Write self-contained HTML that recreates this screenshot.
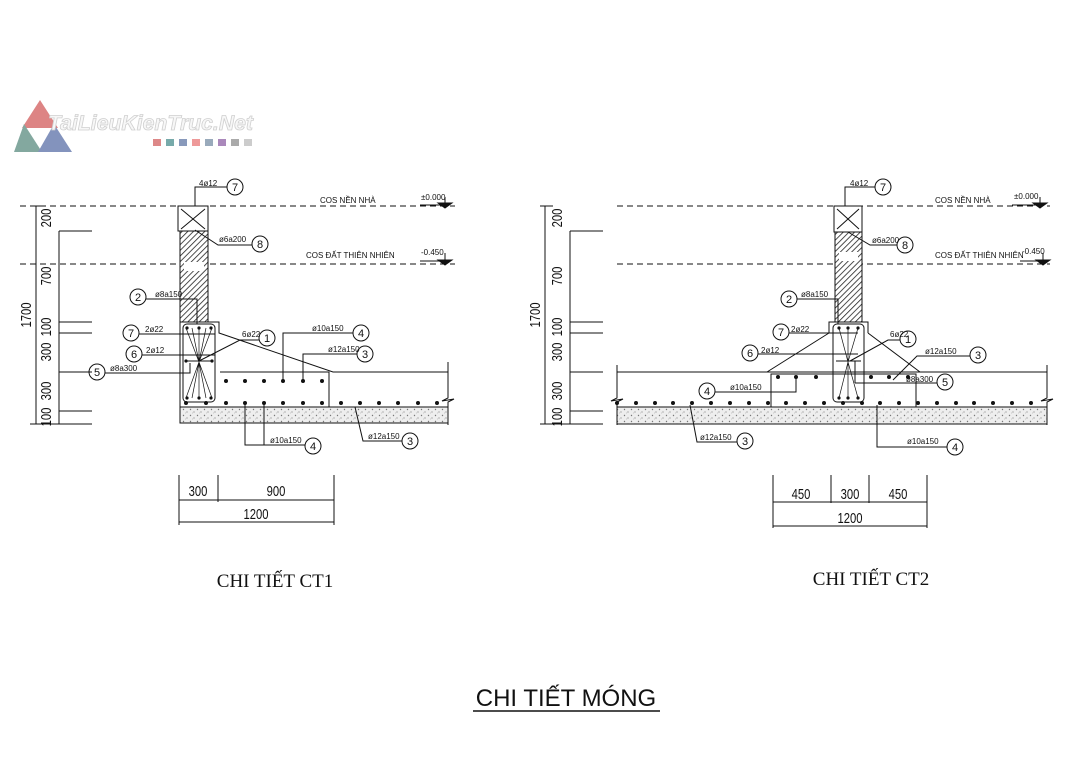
<!DOCTYPE html>
<html><head><meta charset="utf-8"><style>
body{margin:0;background:#fff;width:1080px;height:761px;overflow:hidden}
svg{display:block}
text{font-family:"Liberation Sans",sans-serif;fill:#111}
.s{font-size:8px}
</style></head><body>
<svg width="1080" height="761" viewBox="0 0 1080 761" xmlns="http://www.w3.org/2000/svg">
<defs>
<pattern id="h" width="4" height="4" patternUnits="userSpaceOnUse" patternTransform="rotate(45)"><rect width="4" height="4" fill="#fff"/><line x1="0" y1="0" x2="0" y2="4" stroke="#222" stroke-width="1.6"/></pattern>
<pattern id="c" width="7" height="6" patternUnits="userSpaceOnUse"><rect width="7" height="6" fill="#eee"/><circle cx="1.5" cy="1.5" r=".7" fill="#777"/><circle cx="5" cy="4" r=".6" fill="#888"/><circle cx="3.5" cy="5" r=".4" fill="#999"/></pattern>
</defs>
<!-- logo -->
<g opacity="0.75">
<polygon points="40,100 58,128 22,128" fill="#d25b5b"/>
<polygon points="24,124 42,152 14,152" fill="#5a8c80"/>
<polygon points="54,124 72,152 38,152" fill="#5a6fa8"/>
</g>
<text x="48" y="130" font-size="21" textLength="205" lengthAdjust="spacingAndGlyphs" font-style="italic" font-weight="bold" stroke="#d0d0d0" stroke-width="0.8" style="fill:#f7f7f7">TaiLieuKienTruc.Net</text>
<g>
<rect x="153" y="139" width="8" height="7" fill="#d88"/><rect x="166" y="139" width="8" height="7" fill="#7aa"/><rect x="179" y="139" width="8" height="7" fill="#89b"/><rect x="192" y="139" width="8" height="7" fill="#e99"/><rect x="205" y="139" width="8" height="7" fill="#9ab"/><rect x="218" y="139" width="8" height="7" fill="#a8b"/><rect x="231" y="139" width="8" height="7" fill="#aaa"/><rect x="244" y="139" width="8" height="7" fill="#ccc"/>
</g>

<g stroke="#111" stroke-width="1" fill="none">
<!-- ===== LEFT ===== -->
<line x1="20" y1="206" x2="455" y2="206" stroke-dasharray="6,4"/>
<line x1="20" y1="264" x2="455" y2="264" stroke-dasharray="6,4"/>
<rect x="178" y="206" width="30" height="25"/>
<line x1="181" y1="209" x2="205" y2="229"/><line x1="205" y1="209" x2="181" y2="229"/>
<rect x="180" y="231" width="28" height="91" fill="url(#h)"/>
<rect x="184" y="262" width="20" height="9" fill="#fff" stroke="none"/>
<path d="M180,322 H219 V333 L333,372 H448"/>
<path d="M448,362 V398 l-6,3 12,-2 -6,3 V425"/>
<line x1="180" y1="322" x2="180" y2="423"/>
<rect x="183" y="324" width="32" height="78" rx="4"/>
<path d="M220,372 H329 V407"/>
<line x1="180" y1="407" x2="448" y2="407"/>
<rect x="180" y="407" width="268" height="16" fill="url(#c)"/>
<path d="M186,328 L199,362 L212,328 M186,398 L199,362 L212,398 M199,328 V398 M192,328 L199,362 M206,328 L199,362 M192,398 L199,362 M206,398 L199,362" stroke-width=".7"/>
<line x1="185" y1="361" x2="213" y2="361"/>
<line x1="36" y1="206" x2="36" y2="424"/>
<line x1="59" y1="231" x2="59" y2="424"/>
<path d="M30,206 H45 M59,231 H92 M59,322 H92 M59,333 H92 M59,372 H92 M59,411 H92 M30,424 H92"/>
<path d="M195,206 V187 H227"/><circle cx="235" cy="187" r="8"/>
<path d="M195,230 L218,245 H252"/><circle cx="260" cy="244" r="8"/>
<path d="M146,299 H197 V324"/><circle cx="138" cy="297" r="8"/>
<path d="M139,334 H215"/><circle cx="131" cy="333" r="8"/>
<path d="M142,355 H215"/><circle cx="134" cy="354" r="8"/>
<path d="M105,373 H190 V363"/><circle cx="97" cy="372" r="8"/>
<path d="M199,361 L240,340 H259"/><circle cx="267" cy="338" r="8"/>
<path d="M283,381 V333 H353"/><circle cx="361" cy="333" r="8"/>
<path d="M303,381 V354 H357"/><circle cx="365" cy="354" r="8"/>
<path d="M245,403 V445 H305 M264,403 V445"/><circle cx="313" cy="446" r="8"/>
<path d="M355,407 L363,441 H402"/><circle cx="410" cy="441" r="8"/>
<path d="M420,205 H445 M445,197 V207 M438,203 L452,203 L445,208 Z M420,261 H445 M445,253 V263 M438,260 L452,260 L445,265 Z" fill="#111"/>
<path d="M179,475 V525 M218,475 V502 M334,475 V525 M179,500 H334 M179,522 H334"/>

<!-- ===== RIGHT ===== -->
<line x1="617" y1="206" x2="1050" y2="206" stroke-dasharray="6,4"/>
<line x1="617" y1="264" x2="1050" y2="264" stroke-dasharray="6,4"/>
<rect x="834" y="206" width="28" height="26"/>
<line x1="837" y1="209" x2="859" y2="229"/><line x1="859" y1="209" x2="837" y2="229"/>
<rect x="835" y="232" width="27" height="90" fill="url(#h)"/>
<rect x="839" y="252" width="19" height="9" fill="#fff" stroke="none"/>
<path d="M829,333 V322 H868 V333"/>
<path d="M829,333 L767,372 M868,333 L920,372"/>
<line x1="617" y1="372" x2="1047" y2="372"/>
<path d="M617,365 V398 l-6,3 12,-2 -6,3 V425 M1047,365 V398 l-6,3 12,-2 -6,3 V425"/>
<rect x="833" y="324" width="31" height="78" rx="4"/>
<path d="M771,407 V374 H916 V407"/>
<line x1="617" y1="407" x2="1047" y2="407"/>
<rect x="617" y="407" width="430" height="17" fill="url(#c)"/>
<path d="M839,328 L848,362 L858,328 M839,398 L848,362 L858,398 M848,328 V398" stroke-width=".7"/>
<line x1="836" y1="361" x2="861" y2="361"/>
<line x1="545" y1="206" x2="545" y2="424"/>
<line x1="570" y1="231" x2="570" y2="424"/>
<path d="M540,206 H553 M570,231 H603 M570,322 H603 M570,333 H603 M570,372 H603 M570,411 H603 M540,424 H603"/>
<path d="M845,206 V187 H875"/><circle cx="883" cy="187" r="8"/>
<path d="M848,232 L870,245 H897"/><circle cx="905" cy="245" r="8"/>
<path d="M797,299 H838 V324"/><circle cx="789" cy="299" r="8"/>
<path d="M789,333 H858"/><circle cx="781" cy="332" r="8"/>
<path d="M758,354 H858"/><circle cx="750" cy="353" r="8"/>
<path d="M850,361 L888,340 H900"/><circle cx="908" cy="339" r="8"/>
<path d="M893,380 L917,356 H970"/><circle cx="978" cy="355" r="8"/>
<path d="M855,383 H937 M855,383 V361"/><circle cx="945" cy="382" r="8"/>
<path d="M715,392 H796 V377"/><circle cx="707" cy="391" r="8"/>
<path d="M690,405 L697,442 H737"/><circle cx="745" cy="441" r="8"/>
<path d="M877,405 V447 H947"/><circle cx="955" cy="447" r="8"/>
<path d="M1012,205 H1038 M1040,197 V207 M1033,203 L1047,203 L1040,208 Z M1020,261 H1042 M1043,253 V263 M1036,260 L1050,260 L1043,265 Z" fill="#111"/>
<path d="M773,475 V528 M831,475 V503 M869,475 V503 M927,475 V528 M773,502 H927 M773,526 H927"/>
</g>
<g fill="#111">
<circle cx="226" cy="381" r="2"/><circle cx="245" cy="381" r="2"/><circle cx="264" cy="381" r="2"/><circle cx="283" cy="381" r="2"/><circle cx="303" cy="381" r="2"/><circle cx="322" cy="381" r="2"/>
<circle cx="186" cy="403" r="2"/><circle cx="206" cy="403" r="2"/><circle cx="226" cy="403" r="2"/><circle cx="245" cy="403" r="2"/><circle cx="264" cy="403" r="2"/><circle cx="283" cy="403" r="2"/><circle cx="303" cy="403" r="2"/><circle cx="322" cy="403" r="2"/><circle cx="341" cy="403" r="2"/><circle cx="360" cy="403" r="2"/><circle cx="379" cy="403" r="2"/><circle cx="398" cy="403" r="2"/><circle cx="418" cy="403" r="2"/><circle cx="437" cy="403" r="2"/>
<circle cx="187" cy="328" r="1.6"/><circle cx="199" cy="328" r="1.6"/><circle cx="211" cy="328" r="1.6"/><circle cx="187" cy="398" r="1.6"/><circle cx="199" cy="398" r="1.6"/><circle cx="211" cy="398" r="1.6"/><circle cx="186" cy="361" r="1.6"/><circle cx="212" cy="361" r="1.6"/>
<circle cx="778" cy="377" r="2"/><circle cx="796" cy="377" r="2"/><circle cx="816" cy="377" r="2"/><circle cx="871" cy="377" r="2"/><circle cx="889" cy="377" r="2"/><circle cx="908" cy="377" r="2"/>
<circle cx="617" cy="403" r="2"/><circle cx="636" cy="403" r="2"/><circle cx="655" cy="403" r="2"/><circle cx="673" cy="403" r="2"/><circle cx="692" cy="403" r="2"/><circle cx="711" cy="403" r="2"/><circle cx="730" cy="403" r="2"/><circle cx="749" cy="403" r="2"/><circle cx="768" cy="403" r="2"/><circle cx="786" cy="403" r="2"/><circle cx="805" cy="403" r="2"/><circle cx="824" cy="403" r="2"/><circle cx="843" cy="403" r="2"/><circle cx="862" cy="403" r="2"/><circle cx="880" cy="403" r="2"/><circle cx="899" cy="403" r="2"/><circle cx="918" cy="403" r="2"/><circle cx="937" cy="403" r="2"/><circle cx="956" cy="403" r="2"/><circle cx="974" cy="403" r="2"/><circle cx="993" cy="403" r="2"/><circle cx="1012" cy="403" r="2"/><circle cx="1031" cy="403" r="2"/>
<circle cx="839" cy="328" r="1.6"/><circle cx="848" cy="328" r="1.6"/><circle cx="858" cy="328" r="1.6"/><circle cx="839" cy="398" r="1.6"/><circle cx="848" cy="398" r="1.6"/><circle cx="858" cy="398" r="1.6"/>
</g>
<g class="s">
<text x="199" y="186" class="s">4ø12</text><text x="219" y="242" class="s">ø6a200</text>
<text x="155" y="297" class="s">ø8a150</text><text x="145" y="332" class="s">2ø22</text><text x="146" y="353" class="s">2ø12</text>
<text x="110" y="371" class="s">ø8a300</text><text x="242" y="337" class="s">6ø22</text>
<text x="312" y="331" class="s">ø10a150</text><text x="328" y="352" class="s">ø12a150</text>
<text x="270" y="443" class="s">ø10a150</text><text x="368" y="439" class="s">ø12a150</text>
<text x="320" y="203" class="s">COS NỀN NHÀ</text><text x="306" y="258" class="s">COS ĐẤT THIÊN NHIÊN</text>
<text x="421" y="200" class="s">±0.000</text><text x="421" y="255" class="s">-0.450</text>
<text x="850" y="186" class="s">4ø12</text><text x="872" y="243" class="s">ø6a200</text>
<text x="801" y="297" class="s">ø8a150</text><text x="791" y="332" class="s">2ø22</text><text x="761" y="353" class="s">2ø12</text>
<text x="890" y="337" class="s">6ø22</text><text x="925" y="354" class="s">ø12a150</text><text x="906" y="382" class="s">ø8a300</text>
<text x="730" y="390" class="s">ø10a150</text><text x="700" y="440" class="s">ø12a150</text><text x="907" y="444" class="s">ø10a150</text>
<text x="935" y="203" class="s">COS NỀN NHÀ</text><text x="935" y="258" class="s">COS ĐẤT THIÊN NHIÊN</text>
<text x="1014" y="199" class="s">±0.000</text><text x="1022" y="254" class="s">-0.450</text>
</g>
<g font-size="11" text-anchor="middle">
<text x="235" y="191">7</text><text x="260" y="248">8</text><text x="138" y="301">2</text><text x="131" y="337">7</text><text x="134" y="358">6</text><text x="97" y="376">5</text><text x="267" y="342">1</text><text x="361" y="337">4</text><text x="365" y="358">3</text><text x="313" y="450">4</text><text x="410" y="445">3</text>
<text x="883" y="191">7</text><text x="905" y="249">8</text><text x="789" y="303">2</text><text x="781" y="336">7</text><text x="750" y="357">6</text><text x="908" y="343">1</text><text x="978" y="359">3</text><text x="945" y="386">5</text><text x="707" y="395">4</text><text x="745" y="445">3</text><text x="955" y="451">4</text>
</g>
<g font-size="15" text-anchor="middle" font-weight="300">
<text transform="translate(51,218) rotate(-90) scale(0.75,1)">200</text><text transform="translate(51,276) rotate(-90) scale(0.75,1)">700</text><text transform="translate(51,327) rotate(-90) scale(0.75,1)">100</text><text transform="translate(51,352) rotate(-90) scale(0.75,1)">300</text><text transform="translate(51,391) rotate(-90) scale(0.75,1)">300</text><text transform="translate(51,417) rotate(-90) scale(0.75,1)">100</text><text transform="translate(31,315) rotate(-90) scale(0.75,1)">1700</text>
<text transform="translate(562,218) rotate(-90) scale(0.75,1)">200</text><text transform="translate(562,276) rotate(-90) scale(0.75,1)">700</text><text transform="translate(562,327) rotate(-90) scale(0.75,1)">100</text><text transform="translate(562,352) rotate(-90) scale(0.75,1)">300</text><text transform="translate(562,391) rotate(-90) scale(0.75,1)">300</text><text transform="translate(562,417) rotate(-90) scale(0.75,1)">100</text><text transform="translate(540,315) rotate(-90) scale(0.75,1)">1700</text>
<text transform="translate(198,496) scale(0.75,1)">300</text><text transform="translate(276,496) scale(0.75,1)">900</text><text transform="translate(256,519) scale(0.75,1)">1200</text>
<text transform="translate(801,499) scale(0.75,1)">450</text><text transform="translate(850,499) scale(0.75,1)">300</text><text transform="translate(898,499) scale(0.75,1)">450</text><text transform="translate(850,523) scale(0.75,1)">1200</text>
</g>
<text x="275" y="587" text-anchor="middle" font-size="19" style="font-family:'Liberation Serif',serif">CHI TIẾT CT1</text>
<text x="871" y="585" text-anchor="middle" font-size="19" style="font-family:'Liberation Serif',serif">CHI TIẾT CT2</text>
<text x="566" y="706" text-anchor="middle" font-size="24">CHI TIẾT MÓNG</text>
<line x1="473" y1="711" x2="660" y2="711" stroke="#111" stroke-width="1.5"/>
</svg>
</body></html>
